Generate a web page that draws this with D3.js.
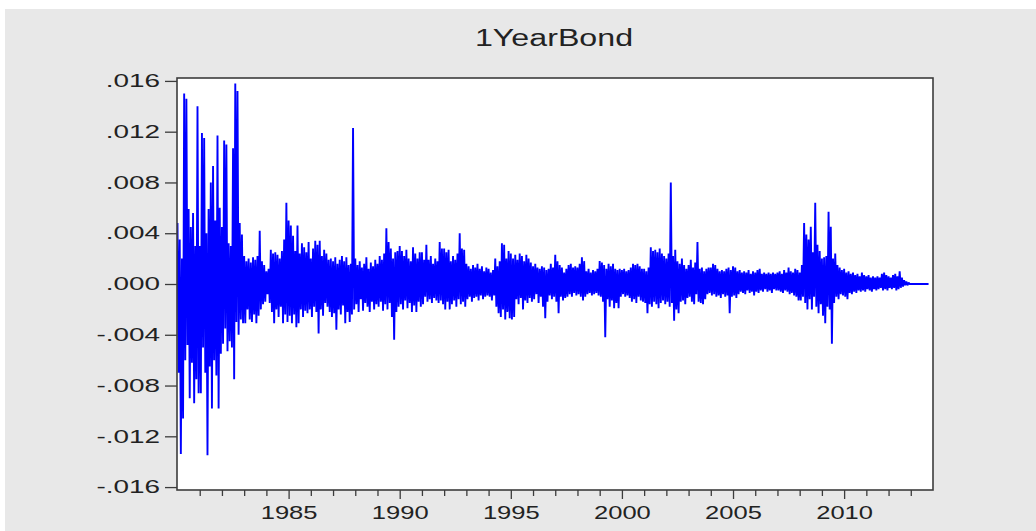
<!DOCTYPE html>
<html>
<head>
<meta charset="utf-8">
<script src="https://cdn.jsdelivr.net/npm/d3@7"></script>
<style>
    html, body { margin: 0; padding: 0; background: #fff; }
    svg { display: block; font-family: "Liberation Sans", Arial, sans-serif; }
</style>
</head>
<body>
<svg id="chart" width="1036" height="531"></svg>
<script>
const obsYears = d3.range(1980, 2014);
const perYear = 20;
const obsValues = [
    /*1980*/ [4.8, -7.0, 3.5, -13.4, 2.0, -10.6, 15.0, -6.0, 14.6, -4.8, 5.9, -9.0, 4.5, -6.2, 5.6, -9.4, 3.0, -7.5, 14.0, -8.6],
    /*1981*/ [3.0, -8.6, 11.9, -5.0, 11.5, -7.0, 4.0, -13.5, 5.9, -6.5, 8.0, -9.8, 9.3, -6.0, 5.0, -7.2, 11.7, -9.8, 6.0, -5.5],
    /*1982*/ [4.5, -4.7, 11.3, -3.5, 11.0, -5.3, 3.2, -4.5, 3.0, -5.0, 10.7, -7.5, 15.8, -3.0, 15.2, -4.0, 4.8, -2.8, 3.9, -3.1],
    /*1983*/ [2.2, -3.1, 1.8, -2.0, 2.0, -2.8, 1.7, -3.0, 2.1, -2.4, 1.9, -3.1, 2.2, -2.5, 4.2, -2.0, 1.8, -1.6, 1.5, -1.4],
    /*1984*/ [1.0, -0.8, 1.2, -1.5, 2.7, -2.2, 2.4, -3.1, 2.5, -2.0, 2.3, -2.6, 2.0, -1.8, 2.6, -3.1, 3.5, -2.4, 6.4, -3.0],
    /*1985*/ [5.0, -2.5, 4.6, -3.1, 3.8, -2.4, 2.6, -3.4, 4.6, -3.1, 2.4, -2.0, 3.2, -2.6, 2.9, -2.1, 2.5, -2.3, 3.3, -2.0],
    /*1986*/ [2.0, -2.6, 2.8, -1.8, 3.4, -2.2, 3.1, -3.9, 3.4, -2.0, 2.2, -2.5, 2.7, -1.5, 2.4, -1.8, 1.9, -2.2, 2.0, -2.6],
    /*1987*/ [1.8, -2.3, 2.1, -3.6, 1.6, -2.0, 1.9, -2.4, 2.2, -1.7, 1.8, -3.1, 2.1, -2.2, 1.5, -3.0, 1.6, -2.4, 12.3, -2.0],
    /*1988*/ [2.0, -1.6, 1.5, -2.2, 1.8, -1.2, 1.3, -2.1, 1.6, -1.5, 2.1, -1.8, 1.2, -2.2, 1.7, -1.4, 1.4, -2.0, 1.9, -1.6],
    /*1989*/ [1.6, -1.8, 2.2, -1.4, 1.9, -2.1, 2.4, -1.6, 4.4, -2.0, 3.3, -1.5, 2.8, -2.6, 2.0, -4.4, 2.5, -2.2, 2.6, -1.8],
    /*1990*/ [3.0, -1.6, 2.6, -2.0, 2.2, -1.3, 2.7, -1.9, 2.0, -1.5, 1.8, -2.2, 2.9, -1.7, 2.4, -2.2, 2.0, -1.4, 2.5, -1.8],
    /*1991*/ [2.5, -1.6, 1.9, -1.0, 3.1, -1.4, 1.9, -1.2, 2.2, -1.5, 1.6, -1.1, 2.0, -1.3, 1.8, -1.5, 3.3, -1.3, 2.8, -1.6],
    /*1992*/ [2.8, -2.0, 2.5, -1.4, 2.7, -2.0, 1.8, -1.6, 2.2, -1.3, 1.9, -1.8, 2.4, -1.2, 4.0, -1.6, 2.8, -1.4, 2.7, -1.8],
    /*1993*/ [1.6, -1.2, 1.4, -1.0, 1.2, -1.4, 1.5, -1.1, 1.3, -1.0, 1.6, -1.3, 1.2, -0.9, 1.4, -1.2, 1.0, -1.0, 1.3, -0.9],
    /*1994*/ [1.2, -1.0, 0.9, -1.3, 1.1, -0.9, 2.0, -1.8, 1.4, -2.3, 1.8, -2.6, 3.2, -2.0, 3.1, -2.8, 2.0, -2.2, 2.6, -2.7],
    /*1995*/ [2.4, -2.8, 2.0, -2.6, 2.3, -1.2, 1.9, -1.6, 2.4, -1.1, 2.2, -2.0, 1.8, -1.3, 2.3, -1.5, 2.0, -1.1, 1.7, -1.4],
    /*1996*/ [1.4, -1.2, 1.6, -0.8, 1.3, -1.5, 1.2, -1.0, 1.4, -1.8, 1.3, -2.7, 1.1, -1.4, 1.2, -0.9, 1.6, -1.2, 1.3, -1.0],
    /*1997*/ [2.3, -1.4, 1.8, -2.3, 1.5, -1.0, 1.3, -1.3, 0.9, -1.1, 1.2, -1.0, 1.5, -0.8, 1.6, -1.0, 1.3, -0.7, 1.4, -0.9],
    /*1998*/ [1.3, -0.8, 1.6, -1.0, 2.1, -1.3, 1.8, -1.0, 1.0, -0.8, 1.2, -0.7, 0.9, -0.9, 1.1, -0.8, 1.0, -0.7, 1.2, -0.9],
    /*1999*/ [1.8, -1.0, 1.7, -1.4, 1.5, -4.2, 1.2, -1.2, 1.6, -1.8, 1.4, -1.3, 1.6, -1.9, 1.2, -1.5, 1.1, -1.9, 1.2, -1.0],
    /*2000*/ [1.1, -0.8, 1.2, -1.0, 1.0, -0.9, 1.1, -1.1, 1.3, -1.4, 1.6, -1.2, 1.5, -1.5, 1.6, -1.0, 1.4, -1.3, 1.2, -1.4],
    /*2001*/ [1.2, -1.5, 1.0, -2.3, 1.3, -1.6, 2.9, -1.8, 2.6, -1.4, 2.7, -1.6, 2.5, -1.9, 2.8, -1.5, 2.4, -1.3, 2.2, -1.6],
    /*2002*/ [2.0, -1.4, 2.4, -1.8, 8.0, -1.5, 2.2, -2.9, 2.7, -2.0, 1.8, -2.3, 1.6, -1.4, 2.0, -1.3, 1.5, -1.6, 1.2, -1.1],
    /*2003*/ [1.5, -1.0, 1.9, -1.4, 1.3, -1.6, 1.7, -0.8, 3.3, -1.4, 1.2, -1.5, 1.3, -1.6, 1.0, -1.2, 1.2, -0.8, 1.3, -0.7],
    /*2004*/ [1.3, -0.9, 1.6, -0.8, 1.5, -1.0, 1.2, -0.9, 1.0, -1.1, 1.1, -0.8, 1.0, -1.0, 1.2, -0.9, 1.3, -2.3, 1.1, -1.0],
    /*2005*/ [1.4, -0.9, 1.3, -1.1, 1.0, -0.8, 1.1, -0.6, 0.9, -0.7, 1.0, -0.8, 0.9, -0.5, 1.1, -0.7, 0.8, -0.6, 1.0, -0.9],
    /*2006*/ [0.9, -0.6, 1.1, -0.7, 1.2, -0.5, 0.8, -0.6, 0.9, -0.4, 0.8, -0.6, 0.9, -0.5, 0.8, -0.7, 0.9, -0.4, 0.8, -0.5],
    /*2007*/ [0.9, -0.5, 1.0, -0.6, 0.8, -0.7, 1.1, -0.5, 0.9, -0.6, 1.3, -0.8, 1.0, -0.7, 0.9, -0.9, 1.2, -1.0, 1.1, -1.3],
    /*2008*/ [0.9, -1.3, 1.5, -1.0, 4.8, -1.5, 3.9, -2.0, 3.5, -1.2, 4.5, -2.0, 2.5, -1.0, 6.4, -1.8, 3.1, -2.3, 2.6, -1.6],
    /*2009*/ [2.0, -2.5, 2.1, -3.1, 2.2, -1.8, 5.7, -2.0, 4.5, -4.7, 2.0, -1.5, 2.4, -1.0, 1.5, -1.2, 1.3, -0.8, 1.1, -0.9],
    /*2010*/ [1.2, -1.0, 0.9, -1.2, 1.0, -0.7, 0.8, -0.8, 0.9, -0.6, 0.7, -0.7, 0.8, -0.5, 0.6, -0.6, 0.9, -0.5, 0.7, -0.6],
    /*2011*/ [0.6, -0.4, 0.7, -0.5, 0.5, -0.6, 0.6, -0.4, 0.5, -0.5, 0.6, -0.4, 0.5, -0.3, 0.8, -0.5, 0.9, -0.4, 0.7, -0.5],
    /*2012*/ [0.6, -0.3, 0.5, -0.4, 0.7, -0.3, 0.8, -0.5, 0.6, -0.4, 1.0, -0.3, 0.5, -0.2, 0.3, -0.1, 0.2, -0.1, 0.1, 0.0],
    /*2013*/ [0, 0, 0, 0, 0, 0, 0, 0, 0, 0, 0, 0, 0, 0, 0, 0, 0]
];

const yTicks = [-16, -12, -8, -4, 0, 4, 8, 12, 16];
const yearLabels = [1985, 1990, 1995, 2000, 2005, 2010];
const chartTitle = "1YearBond";

const svg = d3.select("#chart");
const W = 1036, H = 531;
const frame = { left: 177, right: 933, top: 78, bottom: 490 };

// grey panel
svg.append("rect").attr("x", 5).attr("y", 9).attr("width", W - 5).attr("height", H - 9).attr("fill", "#e8e8e8");

const x = d3.scaleLinear().domain([1980, 2014]).range([frame.left + 0.5, frame.right]);
const y = d3.scaleLinear().domain([-16.23, 16.23]).range([frame.bottom, frame.top]);

svg.append("rect")
    .attr("x", frame.left).attr("y", frame.top)
    .attr("width", frame.right - frame.left).attr("height", frame.bottom - frame.top)
    .attr("fill", "#fff");

// flatten series
const points = [];
obsYears.forEach((yr, k) => {
    obsValues[k].forEach((v, i) => points.push({ t: yr + i / perYear, v: v }));
});

svg.append("clipPath").attr("id", "clip")
    .append("rect")
    .attr("x", frame.left).attr("y", frame.top)
    .attr("width", frame.right - frame.left).attr("height", frame.bottom - frame.top);

const line = d3.line().x(d => x(d.t)).y(d => y(d.v));
svg.append("path")
    .datum(points)
    .attr("clip-path", "url(#clip)")
    .attr("d", line)
    .attr("fill", "none")
    .attr("stroke", "#0000ff")
    .attr("stroke-width", 1.9)
    .attr("stroke-linejoin", "miter")
    .attr("stroke-miterlimit", 1);

// frame
svg.append("rect")
    .attr("x", frame.left).attr("y", frame.top)
    .attr("width", frame.right - frame.left).attr("height", frame.bottom - frame.top)
    .attr("fill", "none").attr("stroke", "#3c3c3c").attr("stroke-width", 1.6);

// y axis (hyphen minus like the original, not U+2212)
const fmt = v => d3.format(".3f")(v / 1000).replace("\u2212", "-").replace(/^(-?)0\./, "$1.");
const ySx = 1.55;
const yAxis = svg.append("g")
    .attr("transform", `translate(${frame.left},0)`)
    .call(d3.axisLeft(y).tickValues(yTicks).tickSize(12).tickPadding(5).tickFormat(fmt));
yAxis.select(".domain").remove();
yAxis.selectAll("line").attr("stroke", "#3c3c3c").attr("stroke-width", 1.3);
yAxis.selectAll("text")
    .attr("font-size", 18).attr("fill", "#222")
    .attr("font-family", "'Liberation Sans', Arial, sans-serif")
    .attr("x", -17 / ySx)
    .attr("transform", `scale(${ySx},1)`);

// x axis
const xSx = 1.42;
const xAxis = svg.append("g")
    .attr("transform", `translate(0,${frame.bottom})`)
    .call(d3.axisBottom(x).tickValues(d3.range(1981, 2014)).tickSize(6).tickPadding(10)
        .tickFormat(d => yearLabels.includes(d) ? String(d) : ""));
xAxis.select(".domain").remove();
xAxis.selectAll("line").attr("stroke", "#3c3c3c").attr("stroke-width", 1.3)
    .attr("y2", d => yearLabels.includes(d) ? 9 : 6);
xAxis.selectAll("text")
    .attr("font-size", 18).attr("fill", "#222")
    .attr("font-family", "'Liberation Sans', Arial, sans-serif")
    .attr("transform", `scale(${xSx},1)`);

// title
svg.append("text")
    .attr("x", 0).attr("y", 46)
    .attr("transform", `translate(554,0) scale(1.4,1)`)
    .attr("text-anchor", "middle")
    .attr("font-size", 23).attr("fill", "#222")
    .text(chartTitle);
</script>
</body>
</html>
